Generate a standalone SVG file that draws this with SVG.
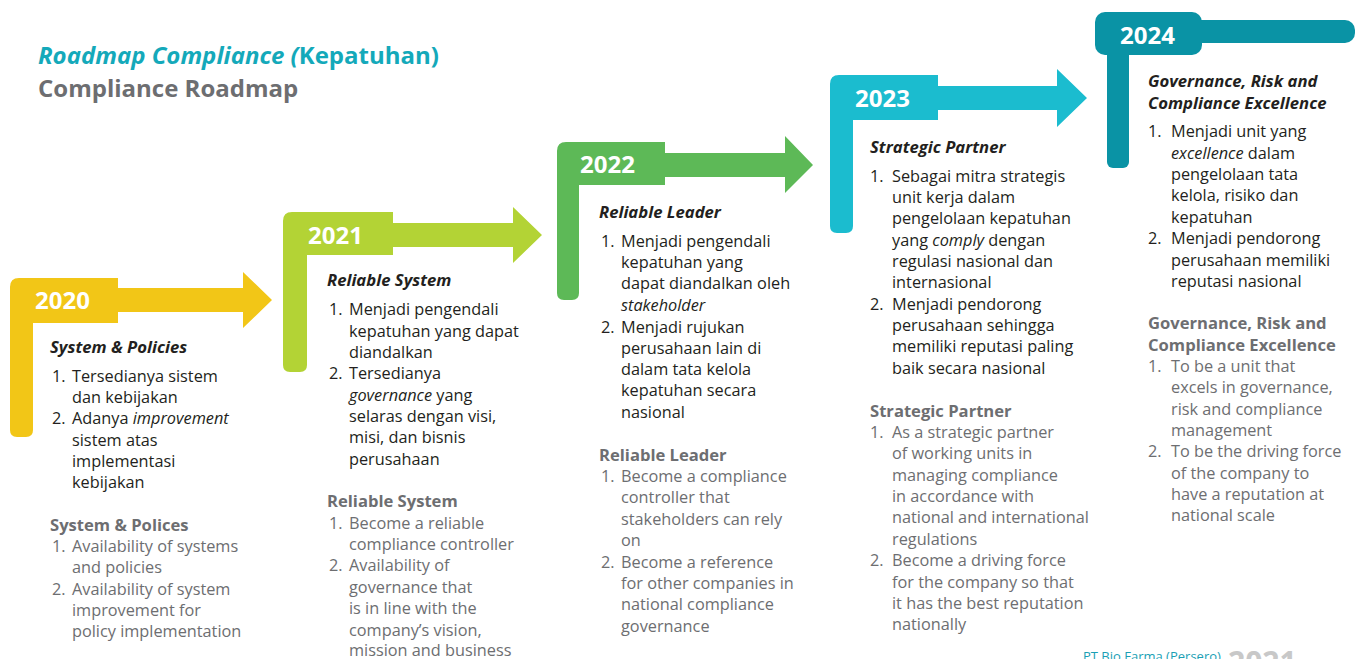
<svg xmlns="http://www.w3.org/2000/svg" width="1362" height="659" viewBox="0 0 1362 659">
<style>
text{font-family:"Open Sans","Noto Sans","Liberation Sans",sans-serif}
.t{font-size:16.3px;fill:#231f20}
.g{font-size:16.3px;fill:#6d6e71}
.h{font-size:16.7px;font-weight:700;font-style:italic;fill:#231f20}
.gh{font-size:16.6px;font-weight:700;fill:#6d6e71}
.yr{font-size:24px;font-weight:700;fill:#ffffff}
.i{font-style:italic}
</style>
<rect width="1362" height="659" fill="#ffffff"/>
<g id="title">
<text x="38" y="64" style="font-size:24px;font-weight:700;fill:#14a9ba"><tspan font-style="italic">Roadmap Compliance (</tspan>Kepatuhan)</text>
<text x="38" y="97" style="font-size:24px;font-weight:700;fill:#6d6e71">Compliance Roadmap</text>
</g>
<g id="connectors"></g>
<g id="node-2020">
<path d="M10,287 Q10,278 19,278 L118,278 L118,288 L243,288 L243,272 L272,300 L243,328 L243,312 L118,312 L118,323 L33,323 L33,430 Q33,437 26,437 L17,437 Q10,437 10,430 Z" fill="#f2c617"/>
<text class="yr" x="35" y="309">2020</text>
<text class="h" x="50" y="353">System &amp; Policies</text>
<text class="t" x="52" y="382">1.</text><text class="t" x="72" y="382">Tersedianya sistem</text>
<text class="t" x="72" y="403">dan kebijakan</text>
<text class="t" x="52" y="424">2.</text><text class="t" x="72" y="424">Adanya <tspan class="i">improvement</tspan></text>
<text class="t" x="72" y="446">sistem atas</text>
<text class="t" x="72" y="467">implementasi</text>
<text class="t" x="72" y="488">kebijakan</text>
<text class="gh" x="50" y="531">System &amp; Polices</text>
<text class="g" x="52" y="552">1.</text><text class="g" x="72" y="552">Availability of systems</text>
<text class="g" x="72" y="573">and policies</text>
<text class="g" x="52" y="595">2.</text><text class="g" x="72" y="595">Availability of system</text>
<text class="g" x="72" y="616">improvement for</text>
<text class="g" x="72" y="637">policy implementation</text>
</g>
<g id="node-2021">
<path d="M283,221 Q283,212 292,212 L393,212 L393,223 L513,223 L513,207 L542,235 L513,263 L513,247 L393,247 L393,255 L307,255 L307,365 Q307,372 300,372 L290,372 Q283,372 283,365 Z" fill="#b3d335"/>
<text class="yr" x="308" y="244">2021</text>
<text class="h" x="327" y="286">Reliable System</text>
<text class="t" x="329" y="315">1.</text><text class="t" x="349" y="315">Menjadi pengendali</text>
<text class="t" x="349" y="337">kepatuhan yang dapat</text>
<text class="t" x="349" y="358">diandalkan</text>
<text class="t" x="329" y="379">2.</text><text class="t" x="349" y="379">Tersedianya</text>
<text class="t" x="349" y="401"><tspan class="i">governance</tspan> yang</text>
<text class="t" x="349" y="422">selaras dengan visi,</text>
<text class="t" x="349" y="443">misi, dan bisnis</text>
<text class="t" x="349" y="465">perusahaan</text>
<text class="gh" x="327" y="507">Reliable System</text>
<text class="g" x="329" y="529">1.</text><text class="g" x="349" y="529">Become a reliable</text>
<text class="g" x="349" y="550">compliance controller</text>
<text class="g" x="329" y="571">2.</text><text class="g" x="349" y="571">Availability of</text>
<text class="g" x="349" y="593">governance that</text>
<text class="g" x="349" y="614">is in line with the</text>
<text class="g" x="349" y="636">company’s vision,</text>
<text class="g" x="349" y="656">mission and business</text>
</g>
<g id="node-2022">
<path d="M557,151 Q557,142 566,142 L665,142 L665,153 L785,153 L785,136 L813,165 L785,193 L785,177 L665,177 L665,185 L579,185 L579,293 Q579,300 572,300 L564,300 Q557,300 557,293 Z" fill="#5db957"/>
<text class="yr" x="580" y="173">2022</text>
<text class="h" x="599" y="218">Reliable Leader</text>
<text class="t" x="601" y="247">1.</text><text class="t" x="621" y="247">Menjadi pengendali</text>
<text class="t" x="621" y="268">kepatuhan yang</text>
<text class="t" x="621" y="289">dapat diandalkan oleh</text>
<text class="t i" x="621" y="311">stakeholder</text>
<text class="t" x="601" y="333">2.</text><text class="t" x="621" y="333">Menjadi rujukan</text>
<text class="t" x="621" y="354">perusahaan lain di</text>
<text class="t" x="621" y="375">dalam tata kelola</text>
<text class="t" x="621" y="396">kepatuhan secara</text>
<text class="t" x="621" y="418">nasional</text>
<text class="gh" x="599" y="461">Reliable Leader</text>
<text class="g" x="601" y="482">1.</text><text class="g" x="621" y="482">Become a compliance</text>
<text class="g" x="621" y="503">controller that</text>
<text class="g" x="621" y="525">stakeholders can rely</text>
<text class="g" x="621" y="546">on</text>
<text class="g" x="601" y="568">2.</text><text class="g" x="621" y="568">Become a reference</text>
<text class="g" x="621" y="589">for other companies in</text>
<text class="g" x="621" y="610">national compliance</text>
<text class="g" x="621" y="632">governance</text>
</g>
<g id="node-2023">
<path d="M830,84 Q830,75 839,75 L938,75 L938,86 L1057,86 L1057,69 L1087,98 L1057,127 L1057,110 L938,110 L938,120 L853,120 L853,226 Q853,233 846,233 L837,233 Q830,233 830,226 Z" fill="#1bbccf"/>
<text class="yr" x="855" y="107">2023</text>
<text class="h" x="870" y="153">Strategic Partner</text>
<text class="t" x="870" y="182">1.</text><text class="t" x="892" y="182">Sebagai mitra strategis</text>
<text class="t" x="892" y="203">unit kerja dalam</text>
<text class="t" x="892" y="224">pengelolaan kepatuhan</text>
<text class="t" x="892" y="246">yang <tspan class="i">comply</tspan> dengan</text>
<text class="t" x="892" y="267">regulasi nasional dan</text>
<text class="t" x="892" y="288">internasional</text>
<text class="t" x="870" y="310">2.</text><text class="t" x="892" y="310">Menjadi pendorong</text>
<text class="t" x="892" y="331">perusahaan sehingga</text>
<text class="t" x="892" y="352">memiliki reputasi paling</text>
<text class="t" x="892" y="374">baik secara nasional</text>
<text class="gh" x="870" y="417">Strategic Partner</text>
<text class="g" x="870" y="438">1.</text><text class="g" x="892" y="438">As a strategic partner</text>
<text class="g" x="892" y="459">of working units in</text>
<text class="g" x="892" y="481">managing compliance</text>
<text class="g" x="892" y="502">in accordance with</text>
<text class="g" x="892" y="523">national and international</text>
<text class="g" x="892" y="545">regulations</text>
<text class="g" x="870" y="566">2.</text><text class="g" x="892" y="566">Become a driving force</text>
<text class="g" x="892" y="588">for the company so that</text>
<text class="g" x="892" y="609">it has the best reputation</text>
<text class="g" x="892" y="630">nationally</text>
</g>
<g id="node-2024">
<rect x="1190" y="20" width="165" height="23" rx="10" fill="#0a93a5"/>
<rect x="1107" y="40" width="22" height="128" rx="6" fill="#0a93a5"/>
<rect x="1095" y="12" width="107" height="43" rx="10" fill="#0a93a5"/>
<text class="yr" x="1120" y="44">2024</text>
<text class="h" x="1148" y="87">Governance, Risk and</text>
<text class="h" x="1148" y="109">Compliance Excellence</text>
<text class="t" x="1148" y="137">1.</text><text class="t" x="1171" y="137">Menjadi unit yang</text>
<text class="t" x="1171" y="159"><tspan class="i">excellence</tspan> dalam</text>
<text class="t" x="1171" y="180">pengelolaan tata</text>
<text class="t" x="1171" y="201">kelola, risiko dan</text>
<text class="t" x="1171" y="223">kepatuhan</text>
<text class="t" x="1148" y="244">2.</text><text class="t" x="1171" y="244">Menjadi pendorong</text>
<text class="t" x="1171" y="266">perusahaan memiliki</text>
<text class="t" x="1171" y="287">reputasi nasional</text>
<text class="gh" x="1148" y="329">Governance, Risk and</text>
<text class="gh" x="1148" y="351">Compliance Excellence</text>
<text class="g" x="1148" y="372">1.</text><text class="g" x="1171" y="372">To be a unit that</text>
<text class="g" x="1171" y="393">excels in governance,</text>
<text class="g" x="1171" y="415">risk and compliance</text>
<text class="g" x="1171" y="436">management</text>
<text class="g" x="1148" y="457">2.</text><text class="g" x="1171" y="457">To be the driving force</text>
<text class="g" x="1171" y="479">of the company to</text>
<text class="g" x="1171" y="500">have a reputation at</text>
<text class="g" x="1171" y="521">national scale</text>
</g>
<g id="footer">
<text x="1083" y="661" style="font-size:13px;fill:#1a9fb5">PT Bio Farma (Persero)</text>
<text x="1228" y="673" style="font-size:30px;font-weight:700;fill:#c8c8c8">2021</text>
</g>
</svg>
